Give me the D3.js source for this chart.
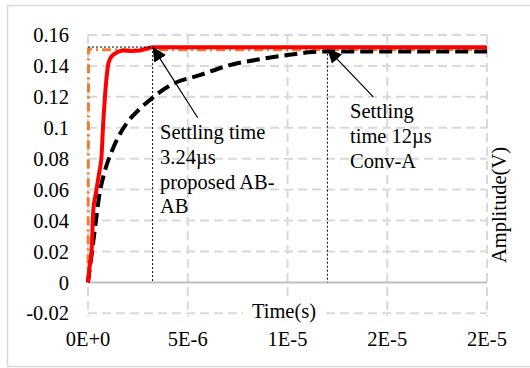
<!DOCTYPE html>
<html>
<head>
<meta charset="utf-8">
<script src="https://cdn.jsdelivr.net/npm/d3@7/dist/d3.min.js"></script>
<style>
  html, body { margin: 0; padding: 0; background: #fff; }
  svg { display: block; }
</style>
</head>
<body>
<svg id="chart" width="530" height="368"></svg>
<script>
// Step responses: time in microseconds, amplitude in volts
const proposedT = [0, 0.1, 0.18, 0.27, 0.4, 0.55, 0.68, 0.75, 0.85, 1.0, 1.1, 1.35, 1.75, 2.2, 2.6, 3.0, 3.24, 5, 10, 15, 20];
const proposedV = [0, 0.012, 0.02, 0.0475, 0.058, 0.07, 0.082, 0.1, 0.12, 0.14, 0.1445, 0.148, 0.150, 0.1497, 0.1500, 0.1515, 0.152, 0.152, 0.152, 0.152, 0.152];

const convT = [0, 0.2, 0.4, 0.55, 0.8, 1.2, 1.6, 2.0, 2.5, 3.1, 4.2, 5.6, 7.1, 8.7, 10, 11.25, 12, 15, 20];
const convV = [0, 0.02, 0.04, 0.055, 0.07, 0.085, 0.096, 0.104, 0.111, 0.118, 0.128, 0.134, 0.1405, 0.1445, 0.147, 0.149, 0.1493, 0.1493, 0.1493];

const idealT = [0, 0.03, 0.5, 5, 10, 15, 20];
const idealV = [0, 0.151, 0.1505, 0.1505, 0.1505, 0.1505, 0.1505];

// Axis ticks
const xTicks = [0, 5, 10, 15, 20];
const xTickLabels = ["0E+0", "5E-6", "1E-5", "2E-5", "2E-5"];
const yTicks = [-0.02, 0, 0.02, 0.04, 0.06, 0.08, 0.1, 0.12, 0.14, 0.16];
const yTickLabels = ["-0.02", "0", "0.02", "0.04", "0.06", "0.08", "0.1", "0.12", "0.14", "0.16"];

// Settling-time annotations
const settleProposed = 3.24;
const settleConv = 12;
const settleLevel = 0.1522;
const proposedLabel = ["Settling time", "3.24\u00b5s", "proposed AB-", "AB"];
const convLabel = ["Settling", "time 12\u00b5s", "Conv-A"];

const FONT = "'Liberation Serif', 'Times New Roman', Tinos, Times, serif";
const FS = 20.5;
const svg = d3.select("#chart").attr("font-family", FONT);
const W = 530;

const x = d3.scaleLinear().domain([0, 20]).range([88, 487]);
const y = d3.scaleLinear().domain([-0.02, 0.16]).range([313.3, 35]);

// chart frame
svg.append("rect")
  .attr("x", 7.5).attr("y", 5.5).attr("width", W).attr("height", 361)
  .attr("fill", "#fff").attr("stroke", "#d9d9d9").attr("stroke-width", 1.5);

// grid
const grid = svg.append("g").attr("stroke", "#d9d9d9").attr("stroke-width", 2)
  .attr("stroke-dasharray", "9,5").attr("fill", "none");
grid.selectAll(".gy").data(yTicks.filter(v => v !== 0)).join("line")
  .attr("x1", x(0)).attr("x2", x(20))
  .attr("y1", d => y(d)).attr("y2", d => y(d));
grid.selectAll(".gx").data(xTicks).join("line")
  .attr("x1", d => x(d)).attr("x2", d => x(d))
  .attr("y1", y(0.16)).attr("y2", y(-0.02) + 3);

// zero line
svg.append("line")
  .attr("x1", x(0)).attr("x2", x(20)).attr("y1", y(0)).attr("y2", y(0))
  .attr("stroke", "#bfbfbf").attr("stroke-width", 2);

// tick labels
svg.append("g").selectAll("text").data(yTicks).join("text")
  .attr("x", 69).attr("y", d => y(d)).attr("dy", "0.35em")
  .attr("text-anchor", "end").attr("font-size", FS)
  .text((d, i) => yTickLabels[i]);
svg.append("g").selectAll("text").data(xTicks).join("text")
  .attr("x", d => x(d)).attr("y", 346)
  .attr("text-anchor", "middle").attr("font-size", FS)
  .text((d, i) => xTickLabels[i]);

// axis titles
const tTitle = svg.append("g");
tTitle.append("rect").attr("x", 243).attr("y", 300).attr("width", 82).attr("height", 24).attr("fill", "#fff");
tTitle.append("text")
  .attr("x", 284).attr("y", 318).attr("text-anchor", "middle")
  .attr("font-size", FS).text("Time(s)");
svg.append("text")
  .attr("transform", "translate(506,205) rotate(-90)")
  .attr("text-anchor", "middle").attr("font-size", FS).text("Amplitude(V)");

// series
const line = d3.line().x(d => x(d[0])).y(d => y(d[1])).curve(d3.curveMonotoneX);
const zip = (a, b) => a.map((t, i) => [t, b[i]]);

svg.append("path").datum(zip(idealT, idealV))
  .attr("d", d3.line().x(d => x(d[0])).y(d => y(d[1])))
  .attr("fill", "none").attr("stroke", "#ed7d31").attr("stroke-width", 3)
  .attr("stroke-dasharray", "9,4,2,4");

svg.append("path").datum(zip(convT, convV))
  .attr("d", line)
  .attr("fill", "none").attr("stroke", "#000").attr("stroke-width", 4)
  .attr("stroke-dasharray", "13,6");

svg.append("path").datum(zip(proposedT, proposedV))
  .attr("d", line)
  .attr("fill", "none").attr("stroke", "#ff0000").attr("stroke-width", 4)
  .attr("stroke-linejoin", "round");

// settling markers
const dotted = svg.append("g").attr("stroke", "#000").attr("stroke-width", 1)
  .attr("stroke-dasharray", "2,2").attr("fill", "none");
dotted.append("line")
  .attr("x1", x(0)).attr("x2", x(settleProposed))
  .attr("y1", y(settleLevel)).attr("y2", y(settleLevel));
dotted.append("line")
  .attr("x1", x(settleProposed)).attr("x2", x(settleProposed))
  .attr("y1", y(settleLevel)).attr("y2", y(0));
dotted.append("line")
  .attr("x1", x(settleConv)).attr("x2", x(settleConv))
  .attr("y1", y(0.1505)).attr("y2", y(0));

// arrows
svg.append("defs").append("marker")
  .attr("id", "arrowhead").attr("viewBox", "0 0 10 10")
  .attr("refX", 10).attr("refY", 5)
  .attr("markerWidth", 14).attr("markerHeight", 14)
  .attr("markerUnits", "userSpaceOnUse").attr("orient", "auto")
  .append("path").attr("d", "M0,0 L10,5 L0,10 Z").attr("fill", "#000");

svg.append("line")
  .attr("x1", x(5.5)).attr("y1", y(0.1065))
  .attr("x2", x(settleProposed)).attr("y2", y(settleLevel))
  .attr("stroke", "#000").attr("stroke-width", 1.2).attr("marker-end", "url(#arrowhead)");
svg.append("line")
  .attr("x1", x(14.3)).attr("y1", y(0.120))
  .attr("x2", x(settleConv)).attr("y2", y(0.151))
  .attr("stroke", "#000").attr("stroke-width", 1.2).attr("marker-end", "url(#arrowhead)");

// annotation text
svg.append("g").selectAll("text").data(proposedLabel).join("text")
  .attr("x", 160).attr("y", (d, i) => 139 + i * 24.8)
  .attr("font-size", FS).text(d => d);
svg.append("g").selectAll("text").data(convLabel).join("text")
  .attr("x", 350).attr("y", (d, i) => 118 + i * 25)
  .attr("font-size", FS).text(d => d);
</script>
</body>
</html>
